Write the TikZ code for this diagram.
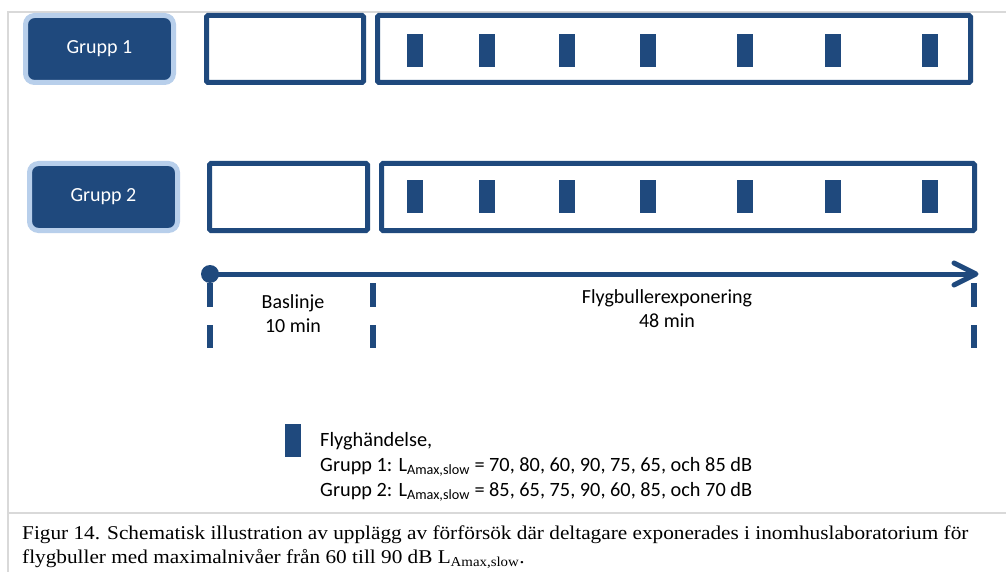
\documentclass[tikz,border=0pt]{standalone}
\usepackage{fontspec}
\setmainfont{Carlito}
\newfontfamily\capfont[FakeStretch=1.09]{Liberation Serif}
\definecolor{dkblue}{RGB}{31,73,125}
\definecolor{ltblue}{RGB}{184,207,235}
\definecolor{frgrey}{RGB}{217,217,217}
\begin{document}
\begin{tikzpicture}[x=1pt,y=-1pt,
  grp/.style={draw=ltblue, fill=dkblue, line width=5pt, rounded corners=9pt,
    minimum width=148pt, minimum height=67pt, inner sep=0pt, text=white,
    font=\fontsize{20}{24}\selectfont},
  phase/.style={draw=dkblue, line width=5pt, rounded corners=1.5pt, fill=white,
    minimum height=67pt, inner sep=0pt},
  event/.style={fill=dkblue, minimum width=16pt, minimum height=33pt, inner sep=0pt},
  lbl/.style={font=\fontsize{20}{24}\selectfont, align=center, inner sep=0pt},
  leg/.style={font=\fontsize{20.3}{24}\selectfont, inner sep=0pt, anchor=base west},
  tickmark/.style={draw=dkblue, line width=6pt},
  captext/.style={font=\capfont\fontsize{19.5}{24}\selectfont, inner sep=0pt, anchor=base west}]
\useasboundingbox (0,0) rectangle (1006,572);
\fill[white] (0,0) rectangle (1006,572);
% frame
\draw[frgrey, line width=2pt] (8,572) -- (8,12) -- (1006,12);
\draw[frgrey, line width=2pt] (8,513) -- (1006,513);
% groups
\node[grp] (g1) at (99.5,49) {Grupp 1};
\node[grp] (g2) at (103.5,197) {Grupp 2};
% phase boxes
\node[phase, minimum width=157pt] (b1) at (285,49) {};
\node[phase, minimum width=593pt] (e1) at (674,49) {};
\node[phase, minimum width=158pt] (b2) at (288.5,197) {};
\node[phase, minimum width=593pt] (e2) at (678,197) {};
% events
\foreach \x [count=\i] in {415,487,567,648,745,833,930} {
  \node[event] (ev1\i) at (\x,50.5) {};
  \node[event] (ev2\i) at (\x,196.5) {};
}
% timeline
\node[circle, fill=dkblue, minimum size=18pt, inner sep=0pt] (t0) at (210,274) {};
\coordinate (t1) at (976,274);
\draw[dkblue, line width=5pt] (t0.center) -- (t1);
\draw[dkblue, line width=5pt, line cap=round, line join=round]
  ([shift={(-22,-11)}]t1) -- (t1) -- ([shift={(-22,11)}]t1);
% ticks
\foreach \x in {210,373,974} {
  \draw[tickmark] (\x,283) -- (\x,307);
  \draw[tickmark] (\x,325) -- (\x,348);
}
% labels
\node[lbl] (lb) at (293,314) {Baslinje\\10 min};
\node[lbl] (le) at (667,309) {Flygbullerexponering\\48 min};
% legend
\node[event] (legm) at (293,440.5) {};
\node[leg] (l1) at (320,446) {Flyghändelse,};
\node[leg] (l2) at (320,471) {Grupp 1: L\textsubscript{Amax,slow} = 70, 80, 60, 90, 75, 65, och 85 dB};
\node[leg] (l3) at (320,496) {Grupp 2: L\textsubscript{Amax,slow} = 85, 65, 75, 90, 60, 85, och 70 dB};
% caption
\node[captext] (c1) at (22,539) {Figur 14. Schematisk illustration av upplägg av förförsök där deltagare exponerades i inomhuslaboratorium för};
\node[captext] (c2) at (22,563) {flygbuller med maximalnivåer från 60 till 90 dB L\textsubscript{Amax,slow}.};
\end{tikzpicture}
\end{document}
